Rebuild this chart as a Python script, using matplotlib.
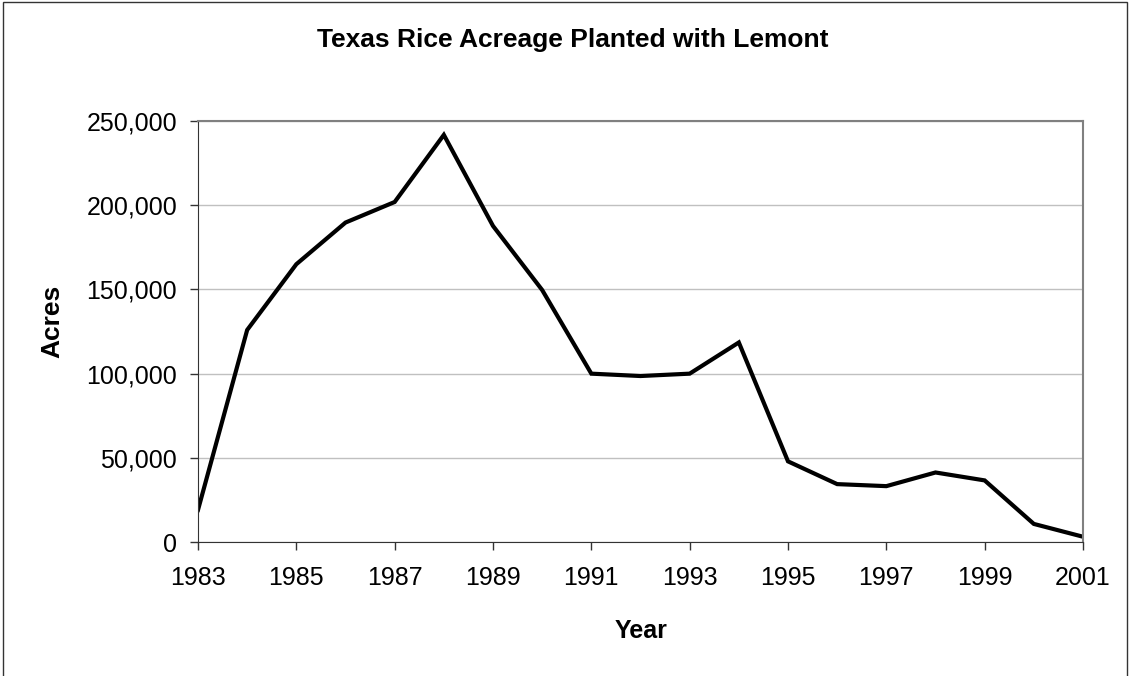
import matplotlib.pyplot as plt
from matplotlib.patches import Rectangle
from matplotlib.ticker import FuncFormatter

# Lemont acreage by year
years = [1983, 1984, 1985, 1986, 1987, 1988, 1989, 1990, 1991, 1992,
         1993, 1994, 1995, 1996, 1997, 1998, 1999, 2000, 2001]
acres = [19200, 125900, 164900, 189600, 201800, 241600, 187600, 149600, 100000, 98600,
         100000, 118500, 48000, 34500, 33300, 41400, 36700, 10900, 3300]

xticks = [1983, 1985, 1987, 1989, 1991, 1993, 1995, 1997, 1999, 2001]
yticks = [0, 50000, 100000, 150000, 200000, 250000]

plt.rcParams['font.family'] = ['Liberation Sans', 'DejaVu Sans']

W, H = 1130, 676
fig = plt.figure(figsize=(W / 100, H / 100), dpi=100)
ax = fig.add_axes([198 / W, 1 - 542.3 / H, 885 / W, 421.6 / H])

ax.plot(years, acres, color='black', linewidth=3, solid_joinstyle='miter')

ax.set_xlim(1983, 2001)
ax.set_ylim(0, 250000)
ax.set_xticks(xticks)
ax.set_yticks(yticks)
ax.yaxis.set_major_formatter(FuncFormatter(lambda v, p: f"{int(v):,}"))
ax.tick_params(labelsize=18, length=6, width=1, color='#333333')
ax.tick_params(axis='x', pad=11)
ax.tick_params(axis='y', pad=9)
ax.grid(axis='y', color='#c0c0c0', linewidth=1)
ax.set_axisbelow(True)

for s in ['left', 'bottom']:
    ax.spines[s].set_color('#333333')
for s in ['top', 'right']:
    ax.spines[s].set_color('#808080')
    ax.spines[s].set_linewidth(1.5)

fig.text(641 / W, 1 - 638 / H, 'Year', fontsize=18, fontweight='bold',
         ha='center', va='baseline')
fig.text(52 / W, 1 - 321.5 / H, 'Acres', fontsize=19, fontweight='bold',
         rotation=90, ha='center', va='center')
fig.text(573 / W, 1 - 46.7 / H, 'Texas Rice Acreage Planted with Lemont',
         fontsize=19, fontweight='bold', ha='center', va='baseline')

# outer chart border (bottom runs off the image)
fig.patches.append(Rectangle((3 / W, -0.05), 1124 / W, 1.05 - 1.5 / H,
                             transform=fig.transFigure, fill=False,
                             edgecolor='#333333', linewidth=1))

fig.savefig('out.png', dpi=100)
